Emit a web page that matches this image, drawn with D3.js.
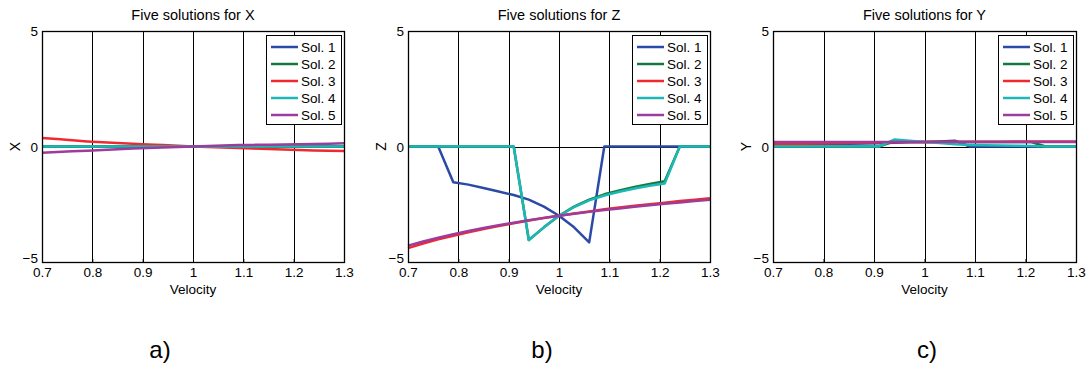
<!DOCTYPE html>
<html><head><meta charset="utf-8">
<script src="https://cdn.jsdelivr.net/npm/d3@7"></script>
<style>body{margin:0;background:#fff}svg{display:block}text{font-family:"Liberation Sans",Arial,sans-serif;fill:#000}</style>
</head><body><svg id="c" width="1086" height="366"></svg>
<script>
const velocity = [0.7,0.73,0.76,0.79,0.82,0.85,0.88,0.91,0.94,0.97,1.0,1.03,1.06,1.09,1.12,1.15,1.18,1.21,1.24,1.27,1.3];
const seriesNames = ["Sol. 1","Sol. 2","Sol. 3","Sol. 4","Sol. 5"];
const seriesColors = ["#2b4aa6","#137a3c","#ee2a30","#1cb8b5","#9c3c9c"];
const xTicks = [0.7,0.8,0.9,1.0,1.1,1.2,1.3];
const yTicks = [-5,0,5];
const panelTitles = ["Five solutions for X","Five solutions for Z","Five solutions for Y"];
const yLabels = ["X","Z","Y"];
const subLabels = ["a)","b)","c)"];

// Panel X
const xSol1 = [0,0,0,0,0,0,0,0,0,0,0,0,0,0,0,0,0,0,0,0,0];
const xSol2 = [0,0,0,0,0,0,0,0,0,0,0,0,0,0,0,0,0,0,0,0,0];
const xSol3 = [0.37,0.32,0.27,0.22,0.18,0.15,0.12,0.09,0.06,0.03,0,-0.02,-0.04,-0.07,-0.09,-0.11,-0.13,-0.15,-0.17,-0.18,-0.2];
const xSol4 = [0,0,0,0,0,0,0,0,0,0,0,0,0,0,0,0,0,0,0,0,0];
const xSol5 = [-0.27,-0.24,-0.21,-0.18,-0.15,-0.12,-0.09,-0.06,-0.04,-0.02,0,0.02,0.04,0.06,0.07,0.08,0.09,0.1,0.11,0.12,0.14];
// Panel Z
const zSol1 = [0,0,0,-1.55,-1.65,-1.8,-1.95,-2.1,-2.3,-2.6,-3.0,-3.5,-4.15,0,0,0,0,0,0,0,0];
const zSol2 = [0,0,0,0,0,0,0,0,-4.05,-3.5,-3.0,-2.6,-2.3,-2.07,-1.9,-1.75,-1.62,-1.5,0,0,0];
const zSol3 = [-4.4,-4.2,-4.02,-3.86,-3.71,-3.57,-3.44,-3.32,-3.2,-3.1,-3.0,-2.9,-2.81,-2.72,-2.64,-2.57,-2.5,-2.43,-2.36,-2.3,-2.24];
const zSol4 = [0,0,0,0,0,0,0,0,-4.05,-3.5,-3.0,-2.62,-2.33,-2.12,-1.96,-1.82,-1.7,-1.6,0,0,0];
const zSol5 = [-4.29,-4.11,-3.95,-3.8,-3.66,-3.53,-3.41,-3.3,-3.19,-3.09,-3.0,-2.91,-2.83,-2.75,-2.68,-2.61,-2.54,-2.48,-2.42,-2.36,-2.31];
// Panel Y
const ySol1 = [0.12,0.12,0.12,0.12,0.12,0.12,0.13,0.14,0.16,0.18,0.2,0.22,0.25,0,0,0,0,0,0,0,0];
const ySol2 = [0,0,0,0,0,0,0,0,0.22,0.21,0.2,0.2,0.2,0.2,0.2,0.2,0.2,0.2,0,0,0];
const ySol3 = [0.1,0.11,0.12,0.13,0.14,0.15,0.16,0.17,0.18,0.19,0.2,0.2,0.21,0.21,0.21,0.21,0.22,0.22,0.22,0.22,0.22];
const ySol4 = [0,0,0,0,0,0,0,0,0.3,0.25,0.2,0.15,0.1,0.07,0.05,0.04,0.03,0.02,0,0,0];
const ySol5 = [0.2,0.2,0.2,0.2,0.2,0.2,0.2,0.2,0.2,0.2,0.2,0.2,0.2,0.2,0.2,0.2,0.2,0.2,0.2,0.2,0.2];

const panels = [
  {series:[xSol1,xSol2,xSol3,xSol4,xSol5], left:42, right:344},
  {series:[zSol1,zSol2,zSol3,zSol4,zSol5], left:408, right:710},
  {series:[ySol1,ySol2,ySol3,ySol4,ySol5], left:773, right:1076}
];
const subLabelX = [160,542,927];
const plotTop = 31, plotBottom = 262;
const svg = d3.select("#c");

panels.forEach((p,pi)=>{
  const g = svg.append("g");
  const x = d3.scaleLinear().domain([0.7,1.3]).range([p.left,p.right]);
  const y = d3.scaleLinear().domain([-5,5]).range([plotBottom,plotTop]);
  // grid
  g.selectAll(".vg").data(xTicks).join("line")
    .attr("x1",d=>Math.round(x(d))+0.5).attr("x2",d=>Math.round(x(d))+0.5)
    .attr("y1",plotTop).attr("y2",plotBottom).attr("stroke","#000").attr("stroke-width",1);
  g.selectAll(".hg").data(yTicks).join("line")
    .attr("y1",d=>Math.round(y(d))+0.5).attr("y2",d=>Math.round(y(d))+0.5)
    .attr("x1",p.left).attr("x2",p.right).attr("stroke","#000").attr("stroke-width",1);
  // axes
  const xa = g.append("g").attr("transform",`translate(0,${plotBottom})`)
    .call(d3.axisBottom(x).tickValues(xTicks).tickFormat(d3.format("~g")).tickSizeInner(-3).tickSizeOuter(0).tickPadding(7));
  const ya = g.append("g").attr("transform",`translate(${p.left},0)`)
    .call(d3.axisLeft(y).tickValues(yTicks).tickSizeInner(-3).tickSizeOuter(0).tickPadding(4));
  [xa,ya].forEach(a=>{a.select(".domain").remove();a.selectAll("line").attr("stroke","#000");
    a.selectAll("text").attr("font-size",13.5).attr("font-family","Liberation Sans, Arial, sans-serif").attr("fill","#000");});
  xa.selectAll("text").attr("dy","0.6em");
  ya.selectAll("text").attr("dy",d=>d===-5?"0.05em":"0.35em");
  // lines
  const line = d3.line().x((d,i)=>x(velocity[i])).y(d=>y(d));
  g.selectAll(".s").data(p.series).join("path")
    .attr("d",d=>line(d)).attr("fill","none")
    .attr("stroke",(d,i)=>seriesColors[i]).attr("stroke-width",2.5)
    .attr("stroke-linejoin","round");
  // box
  g.append("rect").attr("x",p.left+0.5).attr("y",plotTop+0.5).attr("width",p.right-p.left).attr("height",plotBottom-plotTop)
    .attr("fill","none").attr("stroke","#000").attr("stroke-width",1.3);
  // titles
  g.append("text").attr("x",(p.left+p.right)/2).attr("y",20).attr("text-anchor","middle")
    .attr("font-size",14.5).text(panelTitles[pi]);
  g.append("text").attr("x",(p.left+p.right)/2).attr("y",294).attr("text-anchor","middle")
    .attr("font-size",13.5).text("Velocity");
  g.append("text").attr("transform",`translate(${p.left-27},${y(0)}) rotate(-90)`)
    .attr("text-anchor","middle").attr("dy","0.35em").attr("font-size",14).text(yLabels[pi]);
  g.append("text").attr("x",subLabelX[pi]).attr("y",358).attr("text-anchor","middle")
    .attr("font-size",24).text(subLabels[pi]);
  // legend
  const lx = p.right-78, ly = 35;
  const lg = g.append("g");
  lg.append("rect").attr("x",lx+0.5).attr("y",ly+0.5).attr("width",75).attr("height",89)
    .attr("fill","#fff").attr("stroke","#000").attr("stroke-width",1);
  seriesNames.forEach((n,i)=>{
    const yy = ly+12+i*17;
    lg.append("line").attr("x1",lx+5).attr("x2",lx+32).attr("y1",yy).attr("y2",yy)
      .attr("stroke",seriesColors[i]).attr("stroke-width",2.5);
    lg.append("text").attr("x",lx+35).attr("y",yy).attr("dy","0.35em").attr("font-size",13.5).text(n);
  });
});
</script></body></html>
